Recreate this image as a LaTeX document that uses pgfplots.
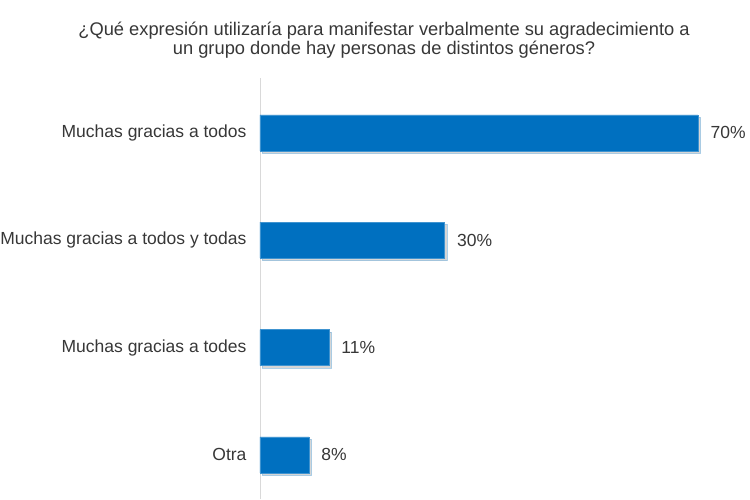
\documentclass[border=0pt]{standalone}
\usepackage{pgfplots}
\pgfplotsset{compat=1.18}
\usepackage{fontspec}
\setmainfont{Liberation Sans}
\usetikzlibrary{shadows}
\definecolor{barblue}{RGB}{0,112,192}
\definecolor{txt}{RGB}{55,55,55}
\begin{document}
\begin{tikzpicture}[x=1pt,y=1pt]
\useasboundingbox (0,0) rectangle (750,499);
\node[anchor=base, text=txt, font=\fontsize{18.3}{20}\selectfont] at (384,463) {¿Qué expresión utilizaría para manifestar verbalmente su agradecimiento a};
\node[anchor=base, text=txt, font=\fontsize{18.3}{20}\selectfont] at (384,444) {un grupo donde hay personas de distintos géneros?};
\begin{axis}[
  at={(260pt,0pt)}, anchor=south west,
  scale only axis, width=438pt, height=421pt,
  xmin=0, xmax=70, ymin=-0.41, ymax=3.51,
  xbar, bar width=36pt,
  axis x line=none,
  axis y line=left,
  y axis line style={-, draw=gray!30, line width=0.8pt},
  ytick={0,1,2,3},
  yticklabels={Otra, Muchas gracias a todes, Muchas gracias a todos y todas, Muchas gracias a todos},
  major tick length=0pt,
  yticklabel style={text=txt, font=\fontsize{17.5}{19}\selectfont, xshift=-10pt},
  nodes near coords={\pgfmathprintnumber[assume math mode=true, fixed, precision=0]{\pgfplotspointmeta}\%},
  nodes near coords style={text=txt, font=\fontsize{17.5}{19}\selectfont, xshift=9pt},
  point meta=x,
  clip=false,
]
\addplot[fill=barblue, draw=barblue!75!white, line width=0.5pt,
  drop shadow={shadow xshift=2.5pt, shadow yshift=-2.5pt, opacity=0.4, fill=gray!80}]
  coordinates {(7.8,0) (11,1) (29.5,2) (70,3)};
\end{axis}
\end{tikzpicture}
\end{document}
